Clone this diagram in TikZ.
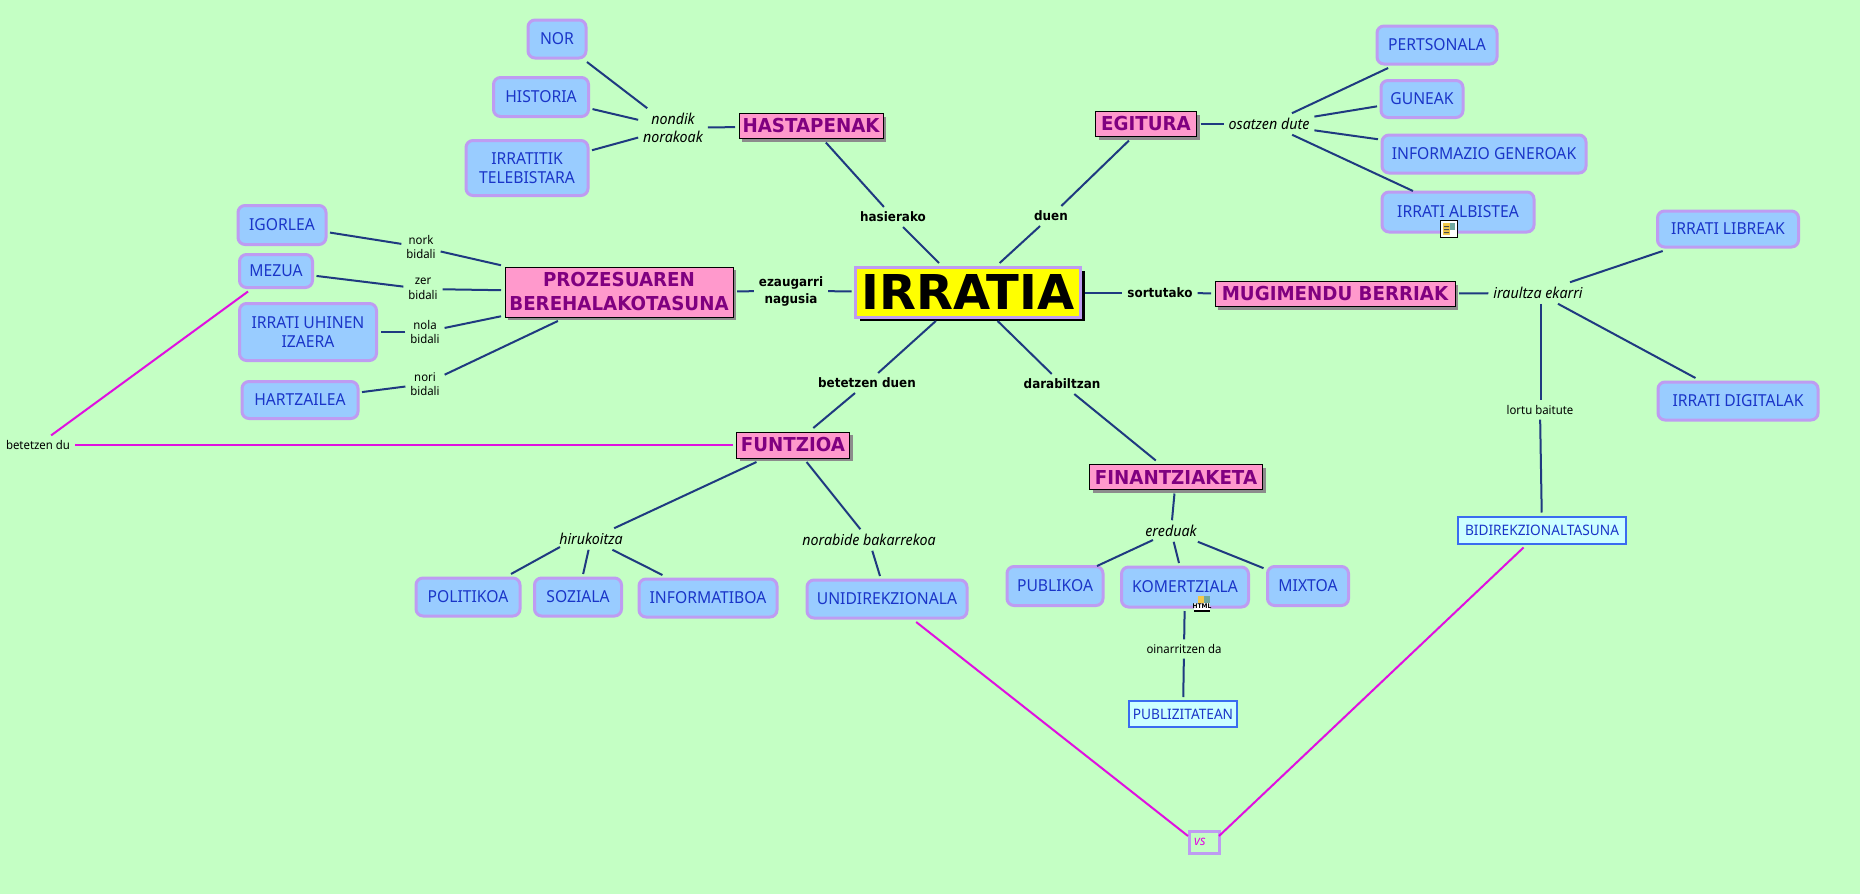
\documentclass[tikz,border=0pt]{standalone}
\usepackage{fontspec}
\setmainfont{Noto Sans}[FakeStretch=0.95]
\newfontfamily\dejav{DejaVu Sans}
\newfontfamily\heavy{DejaVu Sans Bold}[FakeStretch=0.92]
\newfontfamily\heavywide{DejaVu Sans Bold}[FakeStretch=0.95]
\usetikzlibrary{shadows,calc}
\definecolor{bgc}{HTML}{C4FFC4}
\definecolor{boxfill}{HTML}{99CCFF}
\definecolor{boxline}{HTML}{BE9CF2}
\definecolor{boxtext}{HTML}{1A35C8}
\definecolor{linkc}{HTML}{1F3A80}
\definecolor{magc}{HTML}{E010E0}
\definecolor{pinkf}{HTML}{FF99CC}
\definecolor{purp}{HTML}{800080}
\definecolor{pubf}{HTML}{CCFFFF}
\definecolor{publ}{HTML}{3A6CF0}
\definecolor{yel}{HTML}{FFFF00}
\definecolor{icoy}{HTML}{F2C84B}
\definecolor{icob}{HTML}{6FA8A0}
\tikzset{
  base/.style={inner sep=0pt,outer sep=4pt,align=center},
  bluebox/.style={base,draw=boxline,line width=3pt,fill=boxfill,rounded corners=7pt,text=boxtext,font=\fontsize{16.5}{18.5}\selectfont},
  pinkbox/.style={base,draw=black,line width=1pt,fill=pinkf,text=purp,font=\fontsize{19.2}{24}\heavywide,
    general shadow={fill=black!45,shadow xshift=3pt,shadow yshift=-3pt}},
  mainbox/.style={base,draw=boxline,line width=3pt,fill=yel,text=black,font=\fontsize{48}{52}\dejav\bfseries,
    general shadow={fill=black,shadow xshift=4pt,shadow yshift=-4pt}},
  litebox/.style={base,draw=publ,line width=2pt,fill=pubf,text=boxtext,font=\fontsize{14.4}{17}\selectfont},
  vsbox/.style={base,outer sep=0pt,draw=boxline,line width=3pt,fill=bgc,text=magc,font=\fontsize{13.5}{14}\selectfont\itshape},
  lita/.style={inner sep=3pt,outer sep=2pt,align=center,text=black,font=\fontsize{15}{18}\selectfont\itshape},
  libo/.style={inner sep=3pt,outer sep=2pt,align=center,text=black,font=\fontsize{13}{17}\heavy},
  lism/.style={inner sep=3pt,outer sep=2pt,align=center,text=black,font=\fontsize{12}{14.5}\selectfont},
  cn/.style={draw=linkc,line width=2pt},
  mg/.style={draw=magc,line width=2pt},
}
\begin{document}
\begin{tikzpicture}[x=1pt,y=-1pt]
\useasboundingbox (0,0) rectangle (1860,894);
\fill[bgc] (0,0) rectangle (1860,894);
% concepts
\node[mainbox,minimum width=225pt,minimum height=50pt] (irr) at (968,292) {IRRATIA};
\node[pinkbox,minimum width=144pt,minimum height=25pt] (has) at (811,126) {HASTAPENAK};
\node[pinkbox,minimum width=101pt,minimum height=25pt] (egi) at (1146,124) {EGITURA};
\node[pinkbox,minimum width=240pt,minimum height=25pt] (mug) at (1335,294) {MUGIMENDU BERRIAK};
\node[pinkbox,minimum width=228pt,minimum height=50pt] (pro) at (619,292) {PROZESUAREN\\BEREHALAKOTASUNA};
\node[pinkbox,minimum width=113pt,minimum height=26pt] (fun) at (793,445) {FUNTZIOA};
\node[pinkbox,minimum width=173pt,minimum height=25pt] (fin) at (1176,477) {FINANTZIAKETA};
\node[bluebox,minimum width=58pt,minimum height=38pt] (nor) at (557,39) {NOR};
\node[bluebox,minimum width=95pt,minimum height=39pt] (his) at (541,97) {HISTORIA};
\node[bluebox,minimum width=122pt,minimum height=55pt] (tel) at (527,168) {IRRATITIK\\TELEBISTARA};
\node[bluebox,minimum width=120pt,minimum height=38pt] (per) at (1437,45) {PERTSONALA};
\node[bluebox,minimum width=82pt,minimum height=37pt] (gun) at (1422,99) {GUNEAK};
\node[bluebox,minimum width=204pt,minimum height=38pt] (inf) at (1484,154) {INFORMAZIO GENEROAK};
\node[bluebox,minimum width=152pt,minimum height=40pt,outer sep=1pt] (alb) at (1458,212) {IRRATI ALBISTEA};
\node[bluebox,minimum width=141pt,minimum height=36pt] (lib) at (1728,229) {IRRATI LIBREAK};
\node[bluebox,minimum width=160pt,minimum height=38pt] (dig) at (1738,401) {IRRATI DIGITALAK};
\node[bluebox,minimum width=88pt,minimum height=39pt] (igo) at (282,225) {IGORLEA};
\node[bluebox,minimum width=73pt,minimum height=33pt] (mez) at (276,271) {MEZUA};
\node[bluebox,minimum width=137pt,minimum height=57pt] (uhi) at (308,332) {IRRATI UHINEN\\IZAERA};
\node[bluebox,minimum width=116pt,minimum height=37pt] (har) at (300,400) {HARTZAILEA};
\node[bluebox,minimum width=104pt,minimum height=38pt] (pol) at (468,597) {POLITIKOA};
\node[bluebox,minimum width=87pt,minimum height=38pt] (soz) at (578,597) {SOZIALA};
\node[bluebox,minimum width=138pt,minimum height=38pt] (ifa) at (708,598) {INFORMATIBOA};
\node[bluebox,minimum width=160pt,minimum height=38pt] (uni) at (887,599) {UNIDIREKZIONALA};
\node[bluebox,minimum width=96pt,minimum height=39pt] (pub) at (1055,586) {PUBLIKOA};
\node[bluebox,minimum width=127pt,minimum height=40pt] (kom) at (1185,587) {KOMERTZIALA};
\node[bluebox,minimum width=81pt,minimum height=39pt] (mix) at (1308,586) {MIXTOA};
\node[litebox,minimum width=108pt,minimum height=26pt] (pzt) at (1183,714) {PUBLIZITATEAN};
\node[litebox,minimum width=168pt,minimum height=27pt] (bid) at (1542,530) {BIDIREKZIONALTASUNA};
\node[vsbox,minimum width=30pt,minimum height=22pt,text width=20pt,align=left] (vs) at (1204,842) {vs};
% linking phrases
\node[lita] (l1) at (673,128) {nondik\\norakoak};
\node[lita] (l2) at (1269,124) {osatzen dute};
\node[lita] (l3) at (1538,293) {iraultza ekarri};
\node[lita] (l4) at (1171,531) {ereduak};
\node[lita] (l5) at (591,539) {hirukoitza};
\node[lita] (l6) at (869,540) {norabide bakarrekoa};
\node[libo] (b1) at (893,217) {hasierako};
\node[libo] (b2) at (1051,216) {duen};
\node[libo] (b3) at (791,291) {ezaugarri\\nagusia};
\node[libo] (b4) at (1160,293) {sortutako};
\node[libo] (b5) at (867,383) {betetzen duen};
\node[libo] (b6) at (1062,384) {darabiltzan};
\node[lism] (s1) at (421,247) {nork\\bidali};
\node[lism] (s2) at (423,289) {zer\\bidali};
\node[lism] (s3) at (425,332) {nola\\bidali};
\node[lism] (s4) at (425,384) {nori\\bidali};
\node[lism] (s5) at (38,445) {betetzen du};
\node[lism] (s6) at (1540,410) {lortu baitute};
\node[lism] (s7) at (1184,649) {oinarritzen da};
% connectors
\draw[cn] (has) -- (b1); \draw[cn] (b1) -- (irr);
\draw[cn] (egi) -- (b2); \draw[cn] (b2) -- (irr);
\draw[cn] (pro) -- (b3); \draw[cn] (b3) -- (irr);
\draw[cn] (irr.east |- b4) -- (b4); \draw[cn] (b4) -- (mug);
\draw[cn] (irr) -- (b5); \draw[cn] (b5) -- (fun);
\draw[cn] (irr) -- (b6); \draw[cn] (b6) -- (fin);
\draw[cn] (has) -- (l1);
\draw[cn] (l1) -- (nor); \draw[cn] (l1) -- (his); \draw[cn] (l1) -- (tel);
\draw[cn] (egi) -- (l2);
\draw[cn] (l2) -- (per); \draw[cn] (l2) -- (gun); \draw[cn] (l2) -- (inf); \draw[cn] (l2) -- (alb);
\draw[cn] (mug) -- (l3);
\draw[cn] (l3) -- (lib); \draw[cn] (l3) -- (dig);
\draw[cn] ($(l3.south)+(3,0)$) -- ($(s6.north)+(1,0)$); \draw[cn] (s6) -- (bid);
\draw[cn] (s1) -- (igo); \draw[cn] (s2) -- (mez); \draw[cn] (s3) -- (uhi); \draw[cn] (s4) -- (har);
\draw[cn] (s1) -- (pro); \draw[cn] (s2) -- (pro); \draw[cn] (s3) -- (pro); \draw[cn] (s4) -- (pro);
\draw[cn] (fun) -- (l5); \draw[cn] ($(l5)+(-31,8)$) -- ($(pol)+(43,-23)$); \draw[cn] (l5) -- (soz); \draw[cn] (l5) -- (ifa);
\draw[cn] (fun) -- (l6); \draw[cn] (l6) -- (uni);
\draw[cn] (fin) -- (l4); \draw[cn] ($(l4)+(-18,9)$) -- ($(pub)+(42,-20)$); \draw[cn] (l4) -- (kom); \draw[cn] (l4) -- (mix);
\draw[cn] (kom) -- (s7); \draw[cn] (s7) -- (pzt);
\draw[mg] (fun) -- (s5); \draw[mg] (s5) -- (mez);
\draw[mg] (uni) -- ($(vs)+(-16,-6)$); \draw[mg] ($(vs)+(15,-6)$) -- (bid);
% icons
\begin{scope}[shift={(1440,220)}]
\fill[white] (0,0) rectangle (18,18); \draw[black,line width=1pt] (0.5,0.5) rectangle (17.5,17.5);
\fill[icoy] (3,3) rectangle (10,15); \fill[black!70] (4,6) rectangle (9,7) (4,9) rectangle (9,10) (4,12) rectangle (9,13);
\fill[icob] (10,3) rectangle (15,10);
\end{scope}
\begin{scope}[shift={(1194,596)}]
\fill[icoy] (4,0) rectangle (10,7); \fill[icob] (10,0) rectangle (16,7);
\fill[white] (0,7) rectangle (16,14); \fill[black] (0,14) rectangle (16,16);
\node[inner sep=0pt,font=\fontsize{6.5}{7}\heavy] (htm) at (8,10.5) {HTML};
\end{scope}
\end{tikzpicture}
\end{document}
